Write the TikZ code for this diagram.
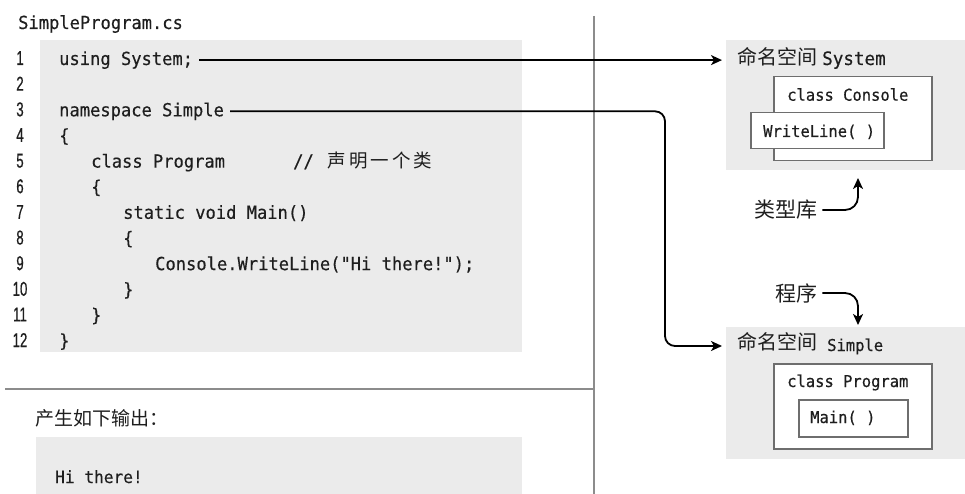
\documentclass[tikz,border=0pt]{standalone}
\usepackage{fontspec}
\usetikzlibrary{arrows.meta}
\newfontfamily\codef[FakeStretch=0.95,FakeBold=0.35]{DejaVu Sans Mono}
\newfontfamily\numf[FakeStretch=0.66,FakeBold=0.6]{Liberation Sans}
\newfontfamily\cjkf{Noto Sans CJK SC}
\definecolor{ink}{HTML}{1E1E1E}
\definecolor{boxgray}{HTML}{EBEBEB}
\definecolor{edgegray}{HTML}{6E6E6E}
\definecolor{rulegray}{HTML}{8C8C8C}
\tikzset{
  code/.style={font=\codef\fontsize{18}{20}\selectfont, anchor=base west, inner sep=0pt, text=ink},
  smallcode/.style={font=\codef\fontsize{16.3}{18}\selectfont, anchor=base west, inner sep=0pt, text=ink},
  lnum/.style={font=\numf\fontsize{20}{22}\selectfont, anchor=base, inner sep=0pt, text=ink},
  cjk/.style={font=\cjkf\fontsize{20}{22}\selectfont, inner sep=0pt, text=ink},
  graybox/.style={fill=boxgray, draw=none, anchor=north west, inner sep=0pt},
  whitebox/.style={fill=white, draw=edgegray, line width=1.5pt, anchor=north west, inner sep=0pt},
  arr/.style={draw=black, line width=1.8pt, -{Stealth[length=11pt,width=10pt,inset=3pt]}},
  divider/.style={draw=rulegray, line width=1.6pt}
}
\begin{document}
\begin{tikzpicture}[x=1pt,y=-1pt]
\useasboundingbox (0,0) rectangle (965,494);
% dividers
\coordinate (vtop) at (594,16);
\coordinate (vbot) at (594,494);
\coordinate (hl) at (5,389);
\coordinate (hr) at (594,389);
\draw[divider] (vtop) -- (vbot);
\draw[divider] (hl) -- (hr);
% title
\node[code] (title) at (18,29) {SimpleProgram.cs};
% code box
\node[graybox, minimum width=482pt, minimum height=312pt] (codebox) at (40,40) {};
% line numbers
\foreach \i in {1,...,12} {
  \node[lnum] (n\i) at (20,{65+(\i-1)*25.64}) {\i};
}
% code lines
\node[code] (l1) at (59,65) {using System;};
\node[code] (l3) at (59,116.3) {namespace Simple};
\node[code] (l4) at (59,141.9) {\{};
\node[code] (l5) at (91,167.6) {class Program};
\node[code] (c5) at (293,167.6) {//\hspace{14pt}{\cjkf\fontsize{18.5}{20}\selectfont 声\hspace{3pt}明\hspace{3pt}一\hspace{3pt}个\hspace{3pt}类}};
\node[code] (l6) at (91,193.2) {\{};
\node[code] (l7) at (123,218.8) {static void Main()};
\node[code] (l8) at (123,244.5) {\{};
\node[code] (l9) at (155,270.1) {Console.WriteLine("Hi there!");};
\node[code] (l10) at (123,295.8) {\}};
\node[code] (l11) at (91,321.4) {\}};
\node[code] (l12) at (59,347) {\}};
% output
\node[cjk, font=\cjkf\fontsize{19}{21}\selectfont, anchor=base west] (outlbl) at (35,425) {产生如下输出：};
\node[graybox, minimum width=486pt, minimum height=57pt] (outbox) at (36,437) {};
\node[code, font=\codef\fontsize{17}{19}\selectfont] (outtxt) at (55,483) {Hi there!};
% right: System namespace
\node[graybox, minimum width=239pt, minimum height=130pt] (sysbox) at (726,40) {};
\node[cjk, anchor=base west] (systitle) at (737,65) {命名空间\hspace{5pt}{\codef\fontsize{18.5}{20}\selectfont System}};
\node[whitebox, minimum width=158pt, minimum height=84pt] (consolebox) at (773,76) {};
\node[smallcode] (consoletxt) at (787,100.7) {class Console};
\node[whitebox, minimum width=133pt, minimum height=36pt] (wlbox) at (750,112) {};
\node[smallcode] (wltxt) at (763,137) {WriteLine( )};
% right: Simple namespace
\node[graybox, minimum width=239pt, minimum height=132pt] (simbox) at (726,327) {};
\node[cjk, anchor=base west] (simtitle) at (737,349) {命名空间\hspace{10pt}{\codef\fontsize{16.3}{18}\selectfont\raisebox{-2pt}{Simple}}};
\node[whitebox, minimum width=158pt, minimum height=85pt] (progbox) at (773,363) {};
\node[smallcode] (progtxt) at (787,387) {class Program};
\node[whitebox, minimum width=109pt, minimum height=37pt] (mainbox) at (798,399) {};
\node[smallcode] (maintxt) at (810,423) {Main( )};
% labels
\node[cjk, font=\cjkf\fontsize{21}{23}\selectfont, anchor=west] (lib) at (754,210) {类型库};
\node[cjk, font=\cjkf\fontsize{21}{23}\selectfont, anchor=west] (prog) at (775,293) {程序};
\coordinate (libtip) at (858,178);
\coordinate (progtip) at (858,325);
\coordinate (bend) at (665,346);
% connectors
\draw[arr] ([xshift=6pt]l1.east) -- ([xshift=-4pt]l1.east -| sysbox.west);
\draw[arr, rounded corners=10pt] ([xshift=6pt]l3.east) -| (bend) -- ([xshift=-4pt]bend -| simbox.west);
\draw[arr, rounded corners=13pt] ([xshift=5pt]lib.east) -| (libtip);
\draw[arr, rounded corners=13pt] ([xshift=5pt]prog.east) -| (progtip);
\end{tikzpicture}
\end{document}
